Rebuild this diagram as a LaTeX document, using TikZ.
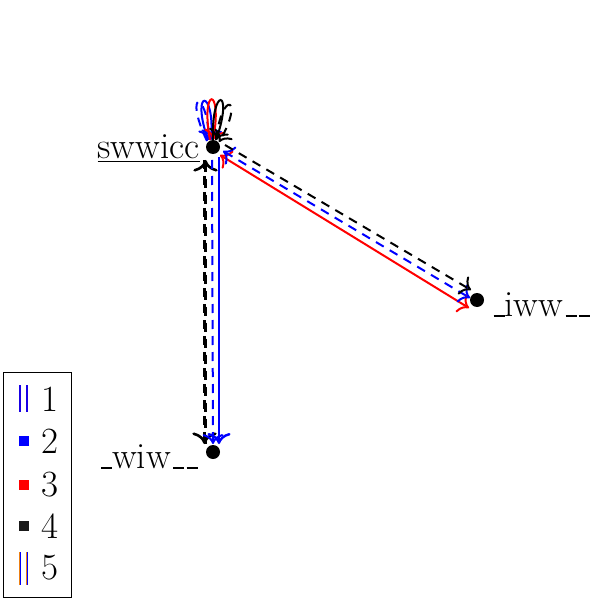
\documentclass[tikz,border=0pt]{standalone}
\usepackage{fontspec}
\usetikzlibrary{arrows.meta}
\newcommand\myus{\leavevmode\kern.06em\vbox{\hrule width.3em height .045em}}
\begin{document}
\begin{tikzpicture}[x=0.5pt,y=-0.5pt,>={To[scale=1.3]},
  dot/.style={circle,fill=black,inner sep=0pt,minimum size=7pt},
  lbl/.style={font=\fontsize{18.5}{22}\selectfont,inner sep=0pt},
  ln/.style={line width=1pt,->},
  dsh/.style={dash pattern=on 4.5pt off 3.5pt},
  legsq/.style={minimum size=5pt,inner sep=0pt}]
\useasboundingbox (0,0) rectangle (604,604);
\node[dot] (sw) at (213,147) {};
\node[dot] (wi) at (213,452) {};
\node[dot] (iw) at (477,300) {};
\node[lbl,anchor=east] (swl) at (200,149) {\underline{swwicc}};
\node[lbl,anchor=east] (wil) at (198,457) {\myus wiw\myus\myus};
\node[lbl,anchor=west] (iwl) at (491,305) {\myus iww\myus\myus};
% vertical edges
\draw[ln,dsh,line width=1.3pt] ([shift={(-8.5,13)}]sw.center) -- ([shift={(-8.5,-8)}]wi.center);
\draw[ln,dsh,<-,line width=1.3pt] ([shift={(-7.5,13)}]sw.center) -- ([shift={(-7.5,-8)}]wi.center);
\draw[ln,blue,dsh] ([shift={(-1,13)}]sw.center) -- ([shift={(0,-8)}]wi.center);
\draw[ln,blue,line width=1.2pt] ([shift={(6,10)}]sw.center) -- ([shift={(6,-8)}]wi.center);
% diagonal edges
\draw[ln,<->,red] ([shift={(7,8)}]sw.center) -- ([shift={(-8,8)}]iw.center);
\draw[ln,<->,blue,dsh] ([shift={(10,4)}]sw.center) -- ([shift={(-7,-2)}]iw.center);
\draw[ln,black,dsh] ([shift={(12,-2)}]sw.center) -- ([shift={(-6,-10)}]iw.center);
% loops
\draw[ln,blue,dsh] ([shift={(-6,-6)}]sw.center) .. controls +(-24,-50) and +(-2,-52) .. ([shift={(-4,-7)}]sw.center);
\draw[ln,blue] ([shift={(-5,-7)}]sw.center) .. controls +(-18,-52) and +(4,-52) .. ([shift={(-2,-7)}]sw.center);
\draw[ln,red] ([shift={(-3,-7)}]sw.center) .. controls +(-10,-54) and +(10,-54) .. ([shift={(0,-7)}]sw.center);
\draw[ln,black] ([shift={(0,-7)}]sw.center) .. controls +(-2,-54) and +(18,-52) .. ([shift={(3,-7)}]sw.center);
\draw[ln,black,dsh] ([shift={(3,-7)}]sw.center) .. controls +(6,-52) and +(26,-44) .. ([shift={(6,-5)}]sw.center);
% legend
\node[draw,line width=0.5pt,minimum width=34pt,minimum height=112.5pt,inner sep=0pt] (leg) at (37,484.5) {};
\draw[blue!80!violet,line width=1.2pt] (20,385) -- (20,412) (27,385) -- (27,412);
\node[legsq,fill=blue] (s2) at (24,441) {};
\node[legsq,fill=red] (s3) at (24,485) {};
\node[legsq,fill=black!90] (s4) at (24,526) {};
\draw[orange!70!brown,line width=0.6pt] (19.5,552) -- (19.5,585) (26.5,552) -- (26.5,585);
\draw[blue,line width=0.6pt] (20.5,552) -- (20.5,585) (27.5,552) -- (27.5,585);
\node[lbl] (t1) at (50,399) {1};
\node[lbl] (t2) at (50,441) {2};
\node[lbl] (t3) at (50,485) {3};
\node[lbl] (t4) at (50,526) {4};
\node[lbl] (t5) at (50,568) {5};
\end{tikzpicture}
\end{document}
